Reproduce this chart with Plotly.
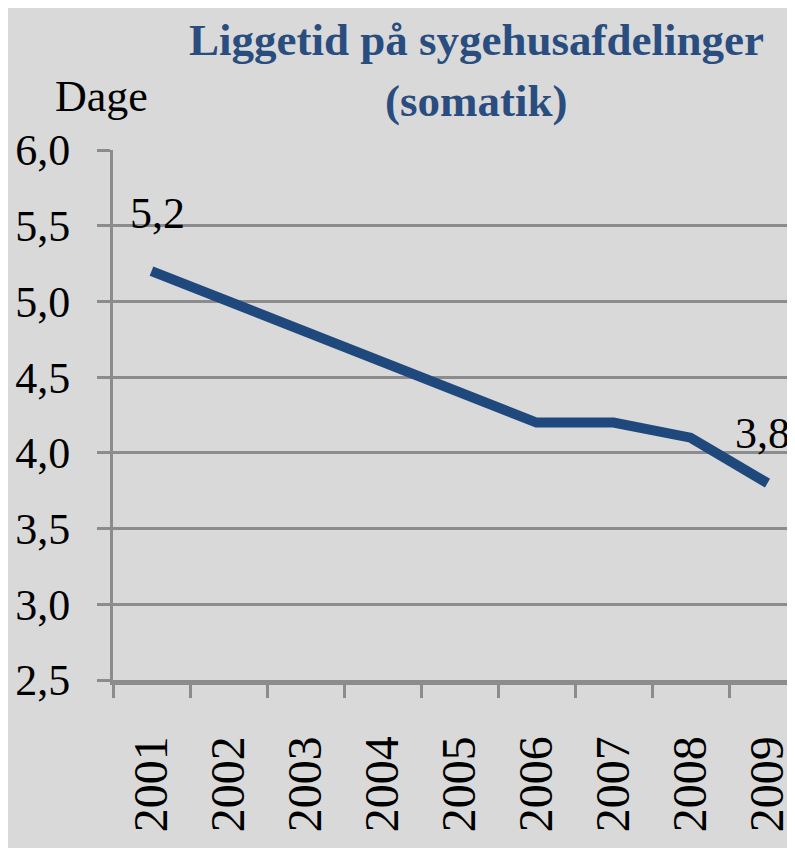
import plotly.graph_objects as go

years = ["2001", "2002", "2003", "2004", "2005", "2006", "2007", "2008", "2009"]
liggetid = [5.2, 5.0, 4.8, 4.6, 4.4, 4.2, 4.2, 4.1, 3.8]
y_ticks = [2.5, 3.0, 3.5, 4.0, 4.5, 5.0, 5.5, 6.0]
y_tick_labels = ["2,5", "3,0", "3,5", "4,0", "4,5", "5,0", "5,5", "6,0"]
title_line1 = "Liggetid på sygehusafdelinger"
title_line2 = "(somatik)"
unit_label = "Dage"

# the page body has an 8px default margin; compensate so the figure fills the window
OFF = 8
W, H = 795 - OFF, 848 - OFF
ML, MR, MT, MB = 113 - OFF, 0, 150 - OFF, 168
plot_w = W - ML - MR
plot_h = H - MT - MB
FONT = "Liberation Serif, Times New Roman, serif"
BG = "#d9d9d9"
GRID = "#8c8c8c"
LINE = "#1f497d"
TITLE_C = "#2a4d80"


def py(px):
    """window pixel row -> paper y"""
    return 1 + (MT - (px - OFF)) / plot_h


def pxx(px):
    """window pixel column -> paper x"""
    return ((px - OFF) - ML) / plot_w


fig = go.Figure()
fig.add_trace(go.Scatter(
    x=years, y=liggetid, mode="lines",
    line=dict(color=LINE, width=10),
    hoverinfo="skip", cliponaxis=False,
))

# data labels for first and last point (category index positions)
fig.add_annotation(x=0, y=liggetid[0], xref="x", yref="y",
                   text=f"{liggetid[0]:.1f}".replace(".", ","), showarrow=False,
                   yshift=58, xshift=6, font=dict(family=FONT, size=44, color="black"))
fig.add_annotation(x=len(years) - 1, y=liggetid[-1], xref="x", yref="y",
                   text=f"{liggetid[-1]:.1f}".replace(".", ","), showarrow=False,
                   yshift=50, xshift=-5, font=dict(family=FONT, size=44, color="black"))

# unit label
fig.add_annotation(x=pxx(101), y=py(96), xref="paper", yref="paper",
                   text=unit_label, showarrow=False, xanchor="center", yanchor="middle",
                   font=dict(family=FONT, size=44, color="black"))

# title lines
fig.add_annotation(x=pxx(476), y=py(40), xref="paper", yref="paper",
                   text=f"<b>{title_line1}</b>", showarrow=False, xanchor="center", yanchor="middle",
                   font=dict(family=FONT, size=45, color=TITLE_C))
fig.add_annotation(x=pxx(476), y=py(101), xref="paper", yref="paper",
                   text=f"<b>{title_line2}</b>", showarrow=False, xanchor="center", yanchor="middle",
                   font=dict(family=FONT, size=45, color=TITLE_C))

cat_w = 77.0
x_end = -0.5 + plot_w / cat_w

fig.update_layout(
    width=W, height=H,
    margin=dict(l=ML, r=MR, t=MT, b=MB, autoexpand=False),
    paper_bgcolor=BG, plot_bgcolor=BG,
    showlegend=False,
    xaxis=dict(
        type="category", range=[-0.5, x_end], automargin=False,
        tickson="boundaries", ticks="outside", ticklen=13, tickwidth=3, tickcolor=GRID,
        tickangle=-90, tickfont=dict(family=FONT, size=48, color="black"),
        showgrid=False, showline=True, linecolor=GRID, linewidth=5,
        ticklabelstandoff=32, zeroline=False,
    ),
    yaxis=dict(
        range=[2.5, 6.0], tickvals=y_ticks, ticktext=y_tick_labels, automargin=False,
        ticks="outside", ticklen=13, tickwidth=3, tickcolor=GRID,
        tickfont=dict(family=FONT, size=44, color="black"),
        showgrid=True, gridcolor=GRID, gridwidth=3,
        showline=True, linecolor=GRID, linewidth=3, zeroline=False,
        ticklabelstandoff=18,
    ),
)

fig.write_html("out.html")
